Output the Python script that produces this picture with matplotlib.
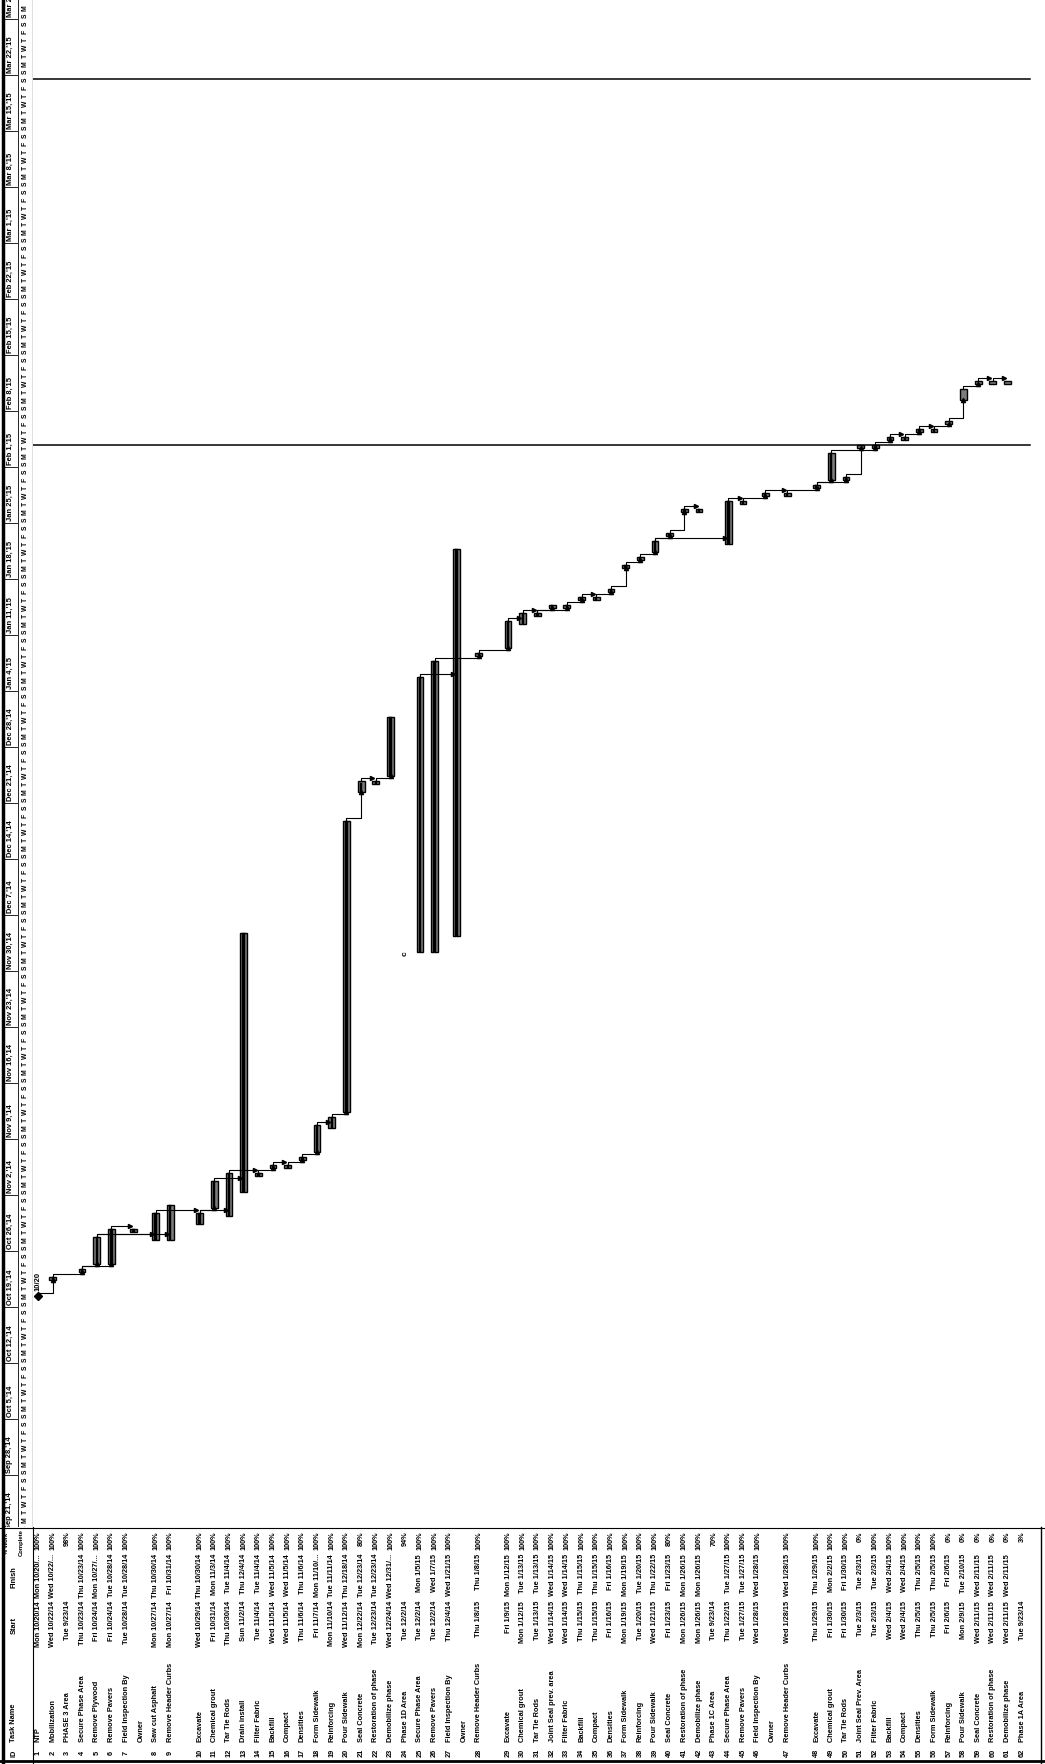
import numpy as np
import pandas as pd
import matplotlib
matplotlib.use('Agg')
import matplotlib.pyplot as plt
import matplotlib.dates as mdates
from matplotlib.patches import Rectangle
from matplotlib.lines import Line2D

plt.rcParams['font.family'] = ['Liberation Sans', 'DejaVu Sans']

# ---- table data ----
task_id = list(range(1, 63))
task_name = [
    'NTP', 'Mobilization', 'PHASE 3 Area', 'Secure Phase Area', 'Remove Plywood',
    'Remove Pavers', 'Field Inspection By\nOwner', 'Saw cut Asphalt', 'Remove Header Curbs',
    'Excavate', 'Chemical grout', 'Tar Tie Rods', 'Drain install', 'Filter Fabric',
    'Backfill', 'Compact', 'Densities', 'Form Sidewalk', 'Reinforcing', 'Pour Sidewalk',
    'Seal Concrete', 'Restoration of phase', 'Demobilize phase', 'Phase 1D Area',
    'Secure Phase Area', 'Remove Pavers', 'Field Inspection By\nOwner', 'Remove Header Curbs',
    'Excavate', 'Chemical grout', 'Tar Tie Rods', 'Joint Seal prev. area', 'Filter Fabric',
    'Backfill', 'Compact', 'Densities', 'Form Sidewalk', 'Reinforcing', 'Pour Sidewalk',
    'Seal Concrete', 'Restoration of phase', 'Demobilize phase', 'Phase 1C Area',
    'Secure Phase Area', 'Remove Pavers', 'Field Inspection By\nOwner', 'Remove Header Curbs',
    'Excavate', 'Chemical grout', 'Tar Tie Rods', 'Joint Seal Prev. Area', 'Filter Fabric',
    'Backfill', 'Compact', 'Densities', 'Form Sidewalk', 'Reinforcing', 'Pour Sidewalk',
    'Seal Concrete', 'Restoration of phase', 'Demobilize phase', 'Phase 1A Area',
]
start_txt = [
    'Mon 10/20/14', 'Wed 10/22/14', 'Tue 9/23/14', 'Thu 10/23/14', 'Fri 10/24/14',
    'Fri 10/24/14', 'Tue 10/28/14', 'Mon 10/27/14', 'Mon 10/27/14', 'Wed 10/29/14',
    'Fri 10/31/14', 'Thu 10/30/14', 'Sun 11/2/14', 'Tue 11/4/14', 'Wed 11/5/14',
    'Wed 11/5/14', 'Thu 11/6/14', 'Fri 11/7/14', 'Mon 11/10/14', 'Wed 11/12/14',
    'Mon 12/22/14', 'Tue 12/23/14', 'Wed 12/24/14', 'Tue 12/2/14', 'Tue 12/2/14',
    'Tue 12/2/14', 'Thu 12/4/14', 'Thu 1/8/15', 'Fri 1/9/15', 'Mon 1/12/15',
    'Tue 1/13/15', 'Wed 1/14/15', 'Wed 1/14/15', 'Thu 1/15/15', 'Thu 1/15/15',
    'Fri 1/16/15', 'Mon 1/19/15', 'Tue 1/20/15', 'Wed 1/21/15', 'Fri 1/23/15',
    'Mon 1/26/15', 'Mon 1/26/15', 'Tue 9/23/14', 'Thu 1/22/15', 'Tue 1/27/15',
    'Wed 1/28/15', 'Wed 1/28/15', 'Thu 1/29/15', 'Fri 1/30/15', 'Fri 1/30/15',
    'Tue 2/3/15', 'Tue 2/3/15', 'Wed 2/4/15', 'Wed 2/4/15', 'Thu 2/5/15',
    'Thu 2/5/15', 'Fri 2/6/15', 'Mon 2/9/15', 'Wed 2/11/15', 'Wed 2/11/15',
    'Wed 2/11/15', 'Tue 9/23/14',
]
finish_txt = [
    'Mon 10/20/14', 'Wed 10/22/14', '', 'Thu 10/23/14', 'Mon 10/27/14',
    'Tue 10/28/14', 'Tue 10/28/14', 'Thu 10/30/14', 'Fri 10/31/14', 'Thu 10/30/14',
    'Mon 11/3/14', 'Tue 11/4/14', 'Thu 12/4/14', 'Tue 11/4/14', 'Wed 11/5/14',
    'Wed 11/5/14', 'Thu 11/6/14', 'Mon 11/10/14', 'Tue 11/11/14', 'Thu 12/18/14',
    'Tue 12/23/14', 'Tue 12/23/14', 'Wed 12/31/14', '', 'Mon 1/5/15',
    'Wed 1/7/15', 'Wed 1/21/15', 'Thu 1/8/15', 'Mon 1/12/15', 'Tue 1/13/15',
    'Tue 1/13/15', 'Wed 1/14/15', 'Wed 1/14/15', 'Thu 1/15/15', 'Thu 1/15/15',
    'Fri 1/16/15', 'Mon 1/19/15', 'Tue 1/20/15', 'Thu 1/22/15', 'Fri 1/23/15',
    'Mon 1/26/15', 'Mon 1/26/15', '', 'Tue 1/27/15', 'Tue 1/27/15',
    'Wed 1/28/15', 'Wed 1/28/15', 'Thu 1/29/15', 'Mon 2/2/15', 'Fri 1/30/15',
    'Tue 2/3/15', 'Tue 2/3/15', 'Wed 2/4/15', 'Wed 2/4/15', 'Thu 2/5/15',
    'Thu 2/5/15', 'Fri 2/6/15', 'Tue 2/10/15', 'Wed 2/11/15', 'Wed 2/11/15',
    'Wed 2/11/15', '',
]
finish_cut = [1, 2, 5, 18, 23]   # finish cells shown cut off ("...")
work_pct = [
    100, 100, 98, 100, 100, 100, 100, 100, 100, 100,
    100, 100, 100, 100, 100, 100, 100, 100, 100, 100,
    80, 100, 100, 94, 100, 100, 100, 100, 100, 100,
    100, 100, 100, 100, 100, 100, 100, 100, 100, 80,
    100, 100, 70, 100, 100, 100, 100, 100, 100, 100,
    0, 100, 100, 100, 100, 100, 0, 0, 0, 0,
    0, 3,
]
# predecessor of each task (0 = none)
pred = [
    0, 1, 0, 2, 4, 4, 6, 5, 5, 8,
    10, 10, 11, 12, 14, 15, 16, 17, 18, 19,
    20, 21, 22, 0, 0, 0, 25, 26, 28, 29,
    30, 31, 31, 33, 34, 35, 36, 37, 38, 39,
    40, 41, 0, 39, 44, 45, 46, 47, 48, 48,
    50, 49, 52, 53, 54, 55, 56, 57, 58, 59,
    60, 0,
]
summary_ids = [3, 24, 43, 62]
milestone_ids = [1]
status_lines = ['2015-02-03 18:00', '2015-03-21 10:00']

# ---- layout (pixels of the 1045 x 1765 page) ----
W, H = 1045, 1765
head_w = 33          # timescale strip width
chart_h = 1528       # chart height from the top
row0_px, row_pitch = 38, 14.69
px_per_day = 8.0
anchor = mdates.date2num(pd.Timestamp('2014-10-20 08:00'))
anchor_px = 1297


def to_date(s):
    return pd.to_datetime(s.split()[1], format='%m/%d/%y')


# row slots: two-line rows take two slots, blank slot after some groups
slots = []
s = 0
for tid, nm in zip(task_id, task_name):
    n = nm.count('\n') + 1
    slots.append(s + (n - 1) / 2)
    s += n
    if tid in (9, 28, 47):
        s += 1
slots = np.array(slots)

fig = plt.figure(figsize=(W / 100, H / 100), dpi=100)
fig.patch.set_facecolor('white')

x_lo = (head_w - row0_px) / row_pitch
x_hi = (W - row0_px) / row_pitch
y_top = anchor + anchor_px / px_per_day
y_bot = anchor - (chart_h - anchor_px) / px_per_day

ax = fig.add_axes([head_w / W, (H - chart_h) / H, (W - head_w) / W, chart_h / H])
ax.set_xlim(x_lo, x_hi)
ax.set_ylim(y_bot, y_top)
ax.axis('off')

axh = fig.add_axes([0, (H - chart_h) / H, head_w / W, chart_h / H], sharey=ax)
axh.set_xlim(0, 1)
axh.axis('off')

axt = fig.add_axes([0, 0, 1, (H - chart_h) / H])
axt.set_xlim(-row0_px / row_pitch, (W - row0_px) / row_pitch)
axt.set_ylim(H, chart_h)
axt.axis('off')

# ---- timescale strip ----
weeks = pd.date_range('2014-09-14', '2015-03-29', freq='7D')
for wk in weeks:
    y = mdates.date2num(wk)
    axh.plot([0.08, 0.52], [y, y], color='black', lw=0.6)
    axh.text(0.30, y + 0.3, f"{wk:%b} {wk.day},'{wk:%y}", rotation=90,
             ha='center', va='bottom', fontsize=5.4, fontweight='bold', clip_on=True)
days = pd.date_range('2014-09-14', '2015-03-31', freq='D')
for d in days:
    yc = mdates.date2num(d) + 0.5
    if yc > y_top - 0.4:
        continue
    axh.text(0.77, yc, 'MTWTFSS'[d.weekday()], rotation=90,
             ha='center', va='center', fontsize=4.9, fontweight='bold', clip_on=True)
axh.axvline(0.54, color='black', lw=0.6)
axh.axvline(0.99, color='black', lw=0.9)

# ---- status lines ----
for sl in status_lines:
    ax.axhline(mdates.date2num(pd.Timestamp(sl)), xmin=0.0, xmax=0.985, color='black', lw=1.1)

# ---- bars ----
bar_w = 0.46
starts = [to_date(t) for t in start_txt]
finishes = [to_date(t) if t else None for t in finish_txt]
bar_lo, bar_hi = {}, {}
for tid, sl, st, fi, pc in zip(task_id, slots, starts, finishes, work_pct):
    if tid in summary_ids:
        continue
    y0 = mdates.date2num(st) + 8 / 24
    y1 = mdates.date2num(fi) + 17 / 24
    bar_lo[tid], bar_hi[tid] = y0, y1
    if tid in milestone_ids:
        ax.plot(sl, y0, marker='D', ms=4.5, color='black')
        ax.text(sl, y0 + 0.8, f"{st.month}/{st.day}", rotation=90, ha='center',
                va='bottom', fontsize=5.5, fontweight='bold')
        bar_hi[tid] = y0
        continue
    ax.add_patch(Rectangle((sl - bar_w / 2, y0), bar_w, y1 - y0, facecolor='#7c7c7c',
                           edgecolor='black', lw=1.0))
    if pc > 0:
        ax.add_patch(Rectangle((sl - 0.08, y0), 0.16, (y1 - y0) * pc / 100,
                               facecolor='black', edgecolor='black', lw=0.3))

# summary row 24 start bracket
i24 = task_id.index(24)
ax.text(slots[i24], mdates.date2num(starts[i24]) + 0.3, 'c', rotation=90,
        ha='center', va='center', fontsize=6, fontweight='bold')

# ---- links ----
slot_of = dict(zip(task_id, slots))
for tid, p in zip(task_id, pred):
    if p == 0:
        continue
    xp, xs = slot_of[p], slot_of[tid]
    yf = bar_hi[p]
    ys = bar_lo[tid]
    yk = yf + 0.35
    if ys > yk:
        ax.plot([xp, xp, xs, xs], [yf, yk, yk, ys], color='black', lw=0.8)
        ax.plot(xs, ys, marker='^', ms=3, color='black')
    else:
        ax.plot([xp, xp, xs - bar_w / 2], [yf, yk, yk], color='black', lw=0.8)
        ax.plot(xs - bar_w / 2, yk, marker='>', ms=3, color='black')

# ---- table ----
fs = 5.3
y_id, y_name, y_start, y_fin, y_pct = 1753, 1742, 1601, 1554, 1531
for tid, sl, nm, stt, fit, pc in zip(task_id, slots, task_name, start_txt, finish_txt, work_pct):
    lines = nm.split('\n')
    x_first = sl - (len(lines) - 1) / 2
    if tid in finish_cut:
        fit = fit[:-2] + '...'
    axt.text(x_first, y_id, str(tid), rotation=90, ha='center', va='center',
             fontsize=fs, fontweight='bold')
    for k, ln in enumerate(lines):
        axt.text(x_first + k, y_name, ln, rotation=90, ha='center', va='bottom',
                 fontsize=fs, fontweight='bold')
    axt.text(x_first, y_start, stt, rotation=90, ha='center', va='top',
             fontsize=fs, fontweight='bold')
    if fit:
        axt.text(x_first, y_fin, fit, rotation=90, ha='center', va='top',
                 fontsize=fs, fontweight='bold')
    axt.text(x_first, y_pct, f"{pc}%", rotation=90, ha='center', va='top',
             fontsize=fs, fontweight='bold')

hx = (14 - row0_px) / row_pitch
axt.text(hx, y_id, 'ID', rotation=90, ha='center', va='center', fontsize=fs, fontweight='bold')
axt.text(hx, y_name, 'Task Name', rotation=90, ha='center', va='bottom', fontsize=fs, fontweight='bold')
axt.text(hx, 1626, 'Start', rotation=90, ha='center', va='center', fontsize=fs, fontweight='bold')
axt.text(hx, 1577, 'Finish', rotation=90, ha='center', va='center', fontsize=fs, fontweight='bold')
axt.text(hx - 0.5, 1543, '% Work', rotation=90, ha='center', va='center', fontsize=4.2, fontweight='bold')
axt.text(hx + 0.5, 1543, 'Complete', rotation=90, ha='center', va='center', fontsize=4.2, fontweight='bold')
axt.axhline(chart_h + 1, color='black', lw=0.8)
axt.axhline(H - 3, color='black', lw=2.0)
axt.axvline((head_w - row0_px) / row_pitch, color='black', lw=0.8)

fig.add_artist(Line2D([2.5 / W, 2.5 / W], [0, 1], color='black', lw=2.5))
fig.add_artist(Line2D([1041 / W, 1041 / W], [0, (H - chart_h) / H], color='black', lw=1.0))

fig.savefig('out.png', dpi=100, facecolor='white')
